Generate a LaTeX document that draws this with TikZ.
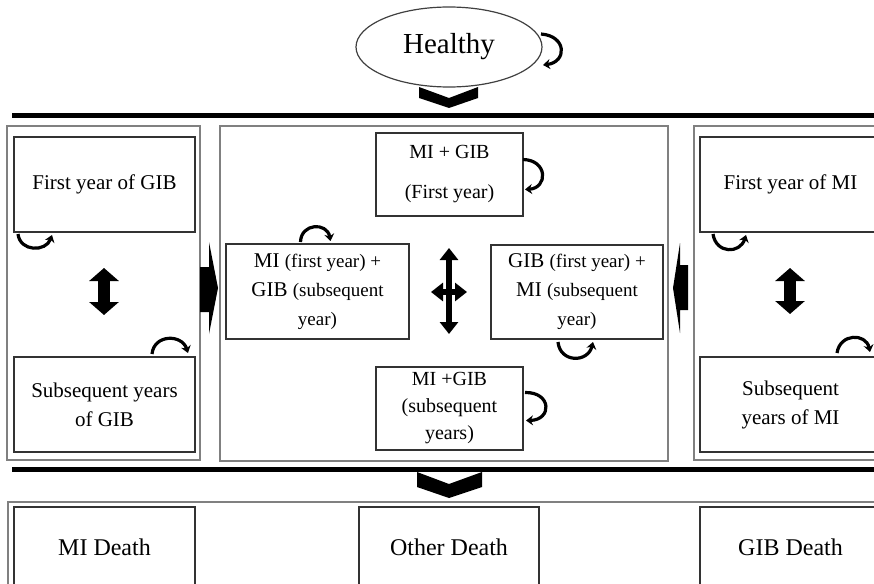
\documentclass[tikz,border=0pt]{standalone}
\usepackage{fontspec}
\setmainfont{Liberation Serif}
\usetikzlibrary{arrows.meta,calc,shapes.geometric}
\newcommand\smtxt[1]{{\fontsize{19}{29}\selectfont #1}}
\begin{document}
\begin{tikzpicture}[x=1pt,y=-1pt,
  every node/.style={inner sep=0pt, outer sep=0pt, align=center, text=black},
  frame/.style={draw=black!50, line width=1.1pt, rectangle},
  statebox/.style={draw=black!80, line width=1.4pt, rectangle, fill=white, font=\fontsize{21}{29}\selectfont},
  sz/.style 2 args={minimum width=#1pt, minimum height=#2pt},
  loopy/.style={line width=3.2pt, -{Stealth[length=7pt,width=10pt]}},
  bar/.style={line width=5pt},
  blk/.style={fill=black, draw=none},
  dblarrow/.style={line width=12pt, {Triangle[length=13pt,width=29pt]}-{Triangle[length=13pt,width=29pt]}},
  crossarrow/.style={line width=6pt, {Triangle[length=12pt,width=18pt]}-{Triangle[length=12pt,width=18pt]}}
]
\useasboundingbox (0,0) rectangle (874,583);
\clip (0,0) rectangle (874,583);

% frames
\node[frame, sz={193}{334}] (L) at (103.5,293) {};
\node[frame, sz={448}{335}] (C) at (444,293.5) {};
\node[frame, sz={193}{334}] (R) at (790.5,293) {};
\node[frame, sz={892}{98}] (D) at (454,551) {};

% bars
\draw[bar] (12,115) -- (874,115);
\draw[bar] (12,469) -- (874,469);

% chevrons
\fill[blk] (419,87) -- (449,98) -- (478,87) -- (478,98) -- (449,108) -- (419,98) -- cycle;
\fill[blk] (417,472) -- (449,484) -- (482,472) -- (482,487) -- (449,498) -- (417,487) -- cycle;

% healthy
\node[draw=black!75, line width=1.2pt, ellipse, fill=white, minimum width=186pt, minimum height=80pt, font=\fontsize{29}{34}\selectfont] (h) at (449,47) {Healthy};

% left column
\node[statebox, sz={181}{95}] (gy1) at (104.5,184.5) {First year of GIB};
\node[statebox, sz={181}{95}] (gy2) at (104.5,404.5) {Subsequent years\\of GIB};
% right column
\node[statebox, sz={181}{95}] (my1) at (790.5,184.5) {First year of MI};
\node[statebox, sz={181}{95}] (my2) at (790.5,404.5) {Subsequent\\years of MI};

% centre
\node[statebox, sz={147}{83}, font=\fontsize{20}{29}\selectfont] (t) at (449.5,174.5) {MI + GIB\\[11pt](First year)};
\node[statebox, sz={183}{95}] (lm) at (317.5,291.5) {MI \smtxt{(first year) +}\\GIB \smtxt{(subsequent}\\\smtxt{year)}};
\node[statebox, sz={172}{94}] (rm) at (577,292) {GIB \smtxt{(first year) +}\\MI \smtxt{(subsequent}\\\smtxt{year)}};
\node[statebox, sz={147}{83}, font=\fontsize{20}{27}\selectfont] (b) at (449.5,408.5) {MI +GIB\\(subsequent\\years)};

% deaths
\node[statebox, sz={181}{80}, font=\fontsize{24}{29}\selectfont] (dmi) at (104.5,547) {MI Death};
\node[statebox, sz={180}{80}, font=\fontsize{24}{29}\selectfont] (doth) at (449,547) {Other Death};
\node[statebox, sz={181}{80}, font=\fontsize{24}{29}\selectfont] (dgib) at (790.5,547) {GIB Death};

% side block arrows
\fill[blk] (200,267) -- (209,267) -- (209,242) -- (218,288) -- (209,334) -- (209,312) -- (200,312) -- cycle;
\fill[blk] (688,265) -- (680,265) -- (680,243) -- (673,288) -- (680,333) -- (680,310) -- (688,310) -- cycle;

% double arrows
\draw[dblarrow] (104,268) -- (104,315);
\draw[dblarrow] (790,268) -- (790,314);
\draw[crossarrow] (449,248) -- (449,334);
\draw[crossarrow] (431,292) -- (467,292);

% self loops
\draw[loopy] ($(h.center)+(92,-13)$) .. controls (567,36) and (567,62) .. ($(h.center)+(94,18)$);
\draw[loopy] ($(t.east)+(0,-15)$) .. controls (548,160) and (548,188) .. ($(t.east)+(2,15)$);
\draw[loopy] ($(b.east)+(2,-16)$) .. controls (552,392) and (552,420) .. ($(b.east)+(3,12)$);
\draw[loopy] ($(gy1.south west)+(4,2)$) .. controls (20,252) and (46,252) .. ($(gy1.south west)+(38,3)$);
\draw[loopy] ($(gy2.north east)+(-43,-3)$) .. controls (154,334) and (182,334) .. ($(gy2.north east)+(-7,-4)$);
\draw[loopy] ($(lm.north)+(-17,-2)$) .. controls (301,223) and (327,222) .. ($(lm.north)+(13,-3)$);
\draw[loopy] ($(rm.south)+(-19,3)$) .. controls (560,363) and (588,363) .. ($(rm.south)+(16,3)$);
\draw[loopy] ($(my1.south west)+(13,2)$) .. controls (716,254) and (740,254) .. ($(my1.south west)+(46,3)$);
\draw[loopy] ($(my2.north west)+(137,-4)$) .. controls (840,333) and (866,333) .. ($(my2.north west)+(170,-5)$);
\end{tikzpicture}
\end{document}
